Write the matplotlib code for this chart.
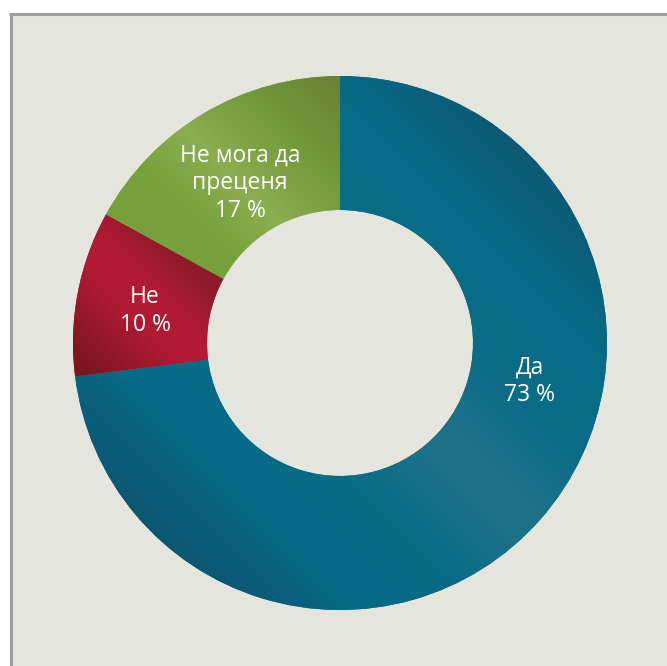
import numpy as np
import matplotlib
matplotlib.use("Agg")
import matplotlib.pyplot as plt
from matplotlib.patches import Rectangle

# ---- data ----
categories = ["Да", "Не", "Не мога да\nпреценя"]
values = [73, 10, 17]
pct_labels = ["73 %", "10 %", "17 %"]

# ---- style / layout ----
base_colors = ["#086a86", "#a81a30", "#7aa33e"]
# gradient stops along the (x - y) diagonal, in pixel units
gradient_stops = [
    [(-275, "#0d5470"), (-175, "#066a86"), (-90, "#096c87"), (-10, "#1d7289"),
     (20, "#1c7189"), (90, "#0b6c87"), (170, "#066c88"), (275, "#0e5872")],
    [(-200, "#7c1520"), (-125, "#b31a35"), (-95, "#b01a33"), (-55, "#8e1a2a")],
    [(-80, "#76a03c"), (-20, "#76a03a"), (40, "#8aae50"), (110, "#72993a"), (190, "#6a7f34")],
]
label_pos = [(530, 381), (145, 311), (240, 183)]

W, H = 667, 666
fig = plt.figure(figsize=(W / 100, H / 100), dpi=100)
fig.patch.set_facecolor("white")
ax = fig.add_axes([0, 0, 1, 1])

cx, cy = 340, H - 343
wedges, _ = ax.pie(values, startangle=90, counterclock=False, radius=267,
                   center=(cx, cy), colors=base_colors,
                   wedgeprops=dict(width=134, linewidth=0, edgecolor="none"))

ax.set_aspect("auto")
ax.set_xlim(0, W)
ax.set_ylim(0, H)
ax.axis("off")

# background panel with border on top and left
ax.add_patch(Rectangle((10.5, 0), W, H - 14, facecolor="#e4e6dd",
                       edgecolor="none", zorder=0))
ax.plot([10.5, 10.5], [0, H - 14], color="#9e9ea0", lw=2.2, zorder=0.5,
        solid_capstyle="butt")
ax.plot([9.4, W], [H - 14, H - 14], color="#9e9ea0", lw=2.2, zorder=0.5,
        solid_capstyle="butt")

# gradient fills clipped to wedges
yy, xx = np.mgrid[0:H, 0:W] + 0.5
s = (xx - yy) / np.sqrt(2)
for w, stops in zip(wedges, gradient_stops):
    sv = np.array([p for p, _ in stops])
    cols = np.array([matplotlib.colors.to_rgb(c) for _, c in stops])
    img = np.dstack([np.interp(s, sv, cols[:, k]) for k in range(3)])
    im = ax.imshow(img, extent=(0, W, 0, H), origin="upper",
                   interpolation="bilinear", zorder=w.get_zorder() + 0.1)
    im.set_clip_path(w)

ax.set_xlim(0, W)
ax.set_ylim(0, H)

for cat, pct, (px, py) in zip(categories, pct_labels, label_pos):
    ax.text(px, H - py, cat + "\n" + pct, ha="center", va="center",
            multialignment="center", color="white", fontsize=16.5,
            family=["Open Sans", "DejaVu Sans"], linespacing=1.2, zorder=10)

fig.savefig("out.png", dpi=100, facecolor="white")
